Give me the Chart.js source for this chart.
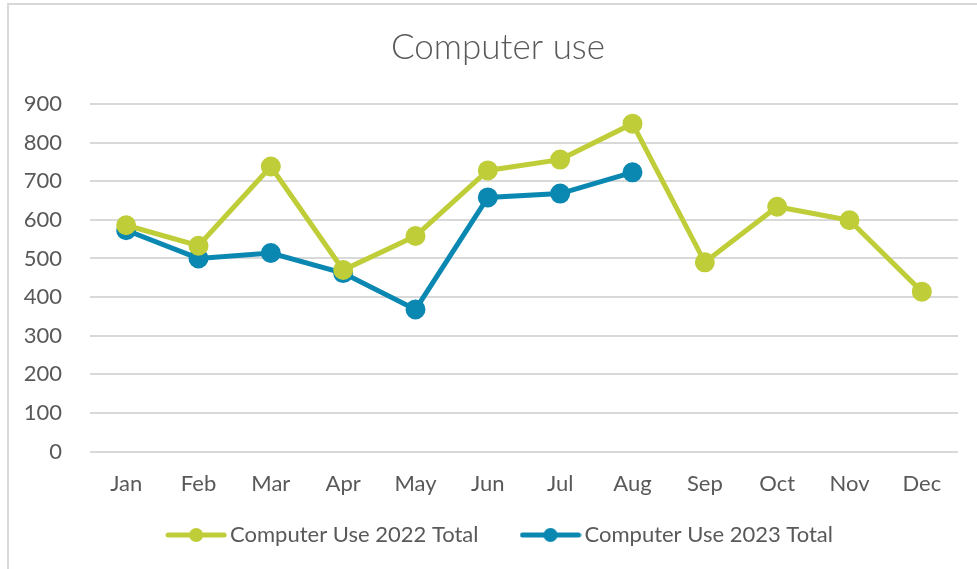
<!DOCTYPE html>
<html>
<head>
<meta charset="utf-8">
<script src="https://cdn.jsdelivr.net/npm/chart.js@4"></script>
<style>
  html, body { margin: 0; padding: 0; background: #fff; overflow: hidden; }
  #frame { position: absolute; left: 7px; top: 3px; width: 990px; height: 590px;
           border-top: 2px solid #d9d9d9; border-left: 2px solid #d9d9d9; }
  #wrap { position: absolute; left: 0; top: 0; width: 977px; height: 569px; }
</style>
</head>
<body>
<div id="frame"></div>
<div id="wrap"><canvas id="useChart" width="977" height="569"></canvas></div>
<script>
const months = ['Jan', 'Feb', 'Mar', 'Apr', 'May', 'Jun', 'Jul', 'Aug', 'Sep', 'Oct', 'Nov', 'Dec'];
const use2022 = [586, 533, 738, 470, 558, 728, 756, 849, 490, 634, 599, 414];
const use2023 = [573, 500, 514, 462, 368, 658, 668, 723];
const yTicks = [0, 100, 200, 300, 400, 500, 600, 700, 800, 900];

const green = '#bfcd39';
const blue = '#0b88b1';
const textGrey = '#595959';
const fontFamily = 'Lato, "Liberation Sans", sans-serif';

// legend marker: short thick line with a dot in the middle
function legendMarker(color) {
    const c = document.createElement('canvas');
    c.width = 62;
    c.height = 16;
    const g = c.getContext('2d');
    g.strokeStyle = color;
    g.lineWidth = 5;
    g.lineCap = 'round';
    g.beginPath();
    g.moveTo(3, 8);
    g.lineTo(59, 8);
    g.stroke();
    g.fillStyle = color;
    g.beginPath();
    g.arc(31, 8, 7, 0, Math.PI * 2);
    g.fill();
    return c;
}

// Excel centres title and legend a bit to the right of the plot; nudge them
const nudgeBoxes = {
    id: 'nudgeBoxes',
    beforeLayout(chart) {
        const lg = chart.legend;
        if (lg && !lg._fixedFit) {
            const fit = lg.fit;
            lg.fit = function () { fit.call(this); this.height = 56; };
            lg._fixedFit = true;
        }
    },
    afterLayout(chart) {
        chart.legend.left += 48;
        chart.legend.top = 475;
        chart.titleBlock.left += 38;
    }
};

const ctx = document.getElementById('useChart').getContext('2d');

const useChart = new Chart(ctx, {
    type: 'line',
    data: {
        labels: months,
        datasets: [{
            label: 'Computer Use 2022 Total',
            data: use2022,
            borderColor: green,
            backgroundColor: green,
            borderWidth: 5,
            pointRadius: 7.5,
            pointHoverRadius: 7.5,
            pointStyle: 'circle',
            tension: 0
        }, {
            label: 'Computer Use 2023 Total',
            data: use2023,
            borderColor: blue,
            backgroundColor: blue,
            borderWidth: 5,
            pointRadius: 7.5,
            pointHoverRadius: 7.5,
            pointStyle: 'circle',
            tension: 0
        }]
    },
    plugins: [nudgeBoxes],
    options: {
        responsive: false,
        animation: false,
        layout: { padding: { left: 0, right: 19, top: 0, bottom: 0 } },
        scales: {
            x: {
                offset: true,
                grid: { display: false, drawTicks: false },
                border: { display: false },
                ticks: { color: textGrey, font: { family: fontFamily, size: 22 }, padding: 19, maxRotation: 0 },
                afterFit: (scale) => { scale.height = 61.5; }
            },
            y: {
                min: 0,
                max: 900,
                afterBuildTicks: (scale) => { scale.ticks = yTicks.map(v => ({ value: v })); },
                grid: { color: '#d9d9d9', lineWidth: 2, drawTicks: false },
                border: { display: false },
                ticks: { color: textGrey, font: { family: fontFamily, size: 22 }, padding: 28 },
                afterFit: (scale) => { scale.width = 90; }
            }
        },
        plugins: {
            title: {
                display: true,
                text: 'Computer use',
                color: textGrey,
                font: { family: fontFamily, size: 35, weight: 300 },
                padding: { top: 27, bottom: 35 }
            },
            legend: {
                position: 'bottom',
                labels: {
                    color: textGrey,
                    font: { family: fontFamily, size: 22 },
                    usePointStyle: true,
                    pointStyleWidth: 46,
                    padding: 49,
                    generateLabels: (chart) => chart.data.datasets.map((ds, i) => ({
                        text: ds.label,
                        fontColor: textGrey,
                        pointStyle: legendMarker(ds.borderColor),
                        datasetIndex: i,
                        hidden: false,
                        lineWidth: 0
                    }))
                }
            },
            tooltip: { enabled: false }
        }
    }
});
</script>
</body>
</html>
